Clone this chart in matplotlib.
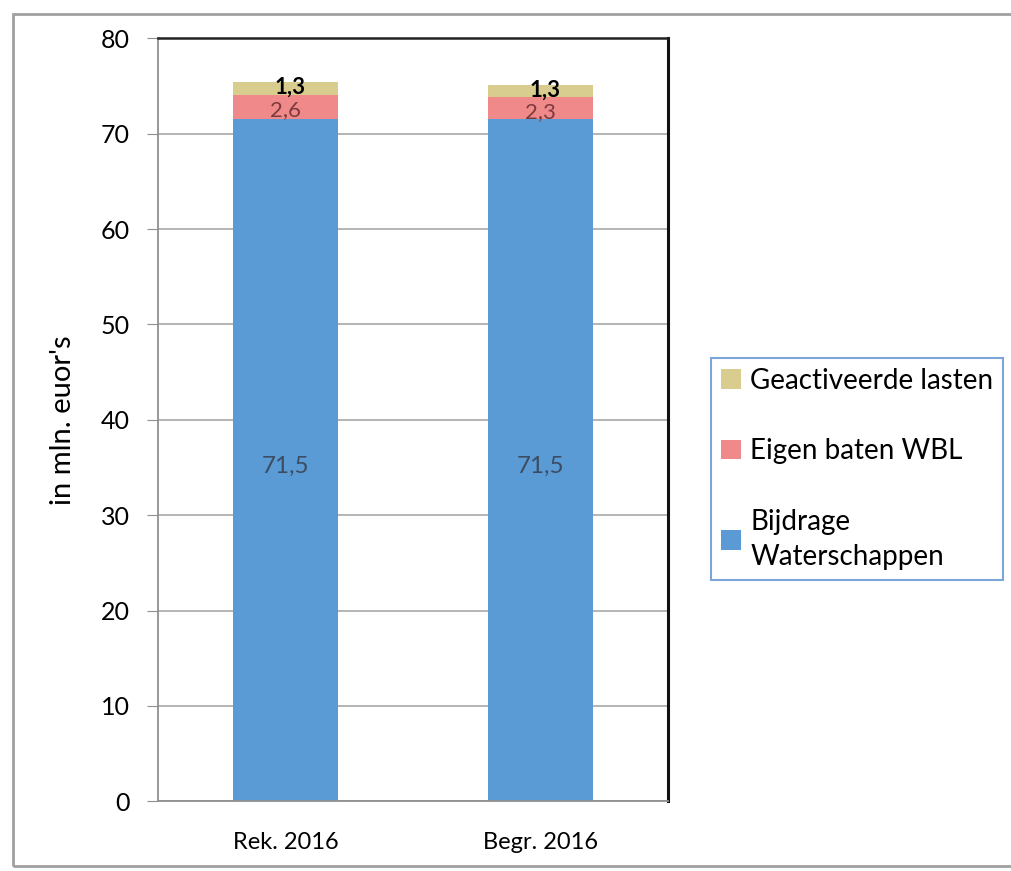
import matplotlib.pyplot as plt
from matplotlib.patches import Rectangle

plt.rcParams['font.family'] = ['Lato', 'DejaVu Sans']

categories = ['Rek. 2016', 'Begr. 2016']
bijdrage = [71.5, 71.5]
eigen_baten = [2.6, 2.3]
geactiveerd = [1.3, 1.3]
series_names = ['Bijdrage\nWaterschappen', 'Eigen baten WBL', 'Geactiveerde lasten']
yticks = [0, 10, 20, 30, 40, 50, 60, 70, 80]

col_blue = '#5b9bd5'
col_red = '#f08a8a'
col_tan = '#d9cc8f'

fig = plt.figure(figsize=(10.12, 8.71), dpi=100)
ax = fig.add_axes([0.156, 0.080, 0.504, 0.876])

x = range(len(categories))
w = 0.41
b1 = ax.bar(x, bijdrage, w, color=col_blue, label=series_names[0], zorder=2)
b2 = ax.bar(x, eigen_baten, w, bottom=bijdrage, color=col_red, label=series_names[1], zorder=2)
bottom3 = [a + b for a, b in zip(bijdrage, eigen_baten)]
b3 = ax.bar(x, geactiveerd, w, bottom=bottom3, color=col_tan, label=series_names[2], zorder=2)

def fmt(v):
    return ('%.1f' % v).replace('.', ',')

for i in x:
    ax.text(i, bijdrage[i] / 2 - 0.6, fmt(bijdrage[i]), ha='center', va='center',
            fontsize=17.5, color='#3c4d63', zorder=3)
    ax.text(i, bijdrage[i] + eigen_baten[i] / 2 - 0.35, fmt(eigen_baten[i]), ha='center',
            va='center', fontsize=16, color='#7d3b3d', zorder=3)
    ax.text(i + 0.02, bottom3[i] + geactiveerd[i] / 2 + 0.1, fmt(geactiveerd[i]), ha='center',
            va='center', fontsize=16, color='black', fontweight='bold', zorder=4)

ax.set_xlim(-0.5, 1.5)
ax.set_ylim(0, 80)
ax.set_yticks(yticks)
ax.set_yticklabels([str(t) for t in yticks], fontsize=18)
ax.set_xticks(list(x))
ax.set_xticklabels(categories, fontsize=17)
ax.tick_params(axis='x', length=0, pad=22)
ax.tick_params(axis='y', length=8, color='#909090', pad=12, direction='out')
ax.yaxis.grid(True, color='#a8a8a8', linewidth=1.2, zorder=0)
ax.set_axisbelow(True)
ax.set_ylabel("in mln. euor's", fontsize=21, labelpad=18)

ax.spines['left'].set_color('#909090')
ax.spines['bottom'].set_color('#909090')
ax.spines['top'].set_color('#222222')
ax.spines['right'].set_color('#111111')
ax.spines['left'].set_linewidth(1.3)
ax.spines['bottom'].set_linewidth(1.3)
ax.spines['top'].set_linewidth(1.8)
ax.spines['right'].set_linewidth(2.2)

leg = fig.legend([b3, b2, b1], [series_names[2], series_names[1], series_names[0]],
                 loc='upper left', bbox_to_anchor=(0.703, 0.589),
                 fontsize=20, frameon=True, fancybox=False,
                 handlelength=0.7, handleheight=0.7, handletextpad=0.35,
                 labelspacing=1.6, borderpad=0.35, borderaxespad=0)
leg.get_texts()[2].set_linespacing(1.45)
leg.get_frame().set_edgecolor('#5b8fd0')
leg.get_frame().set_linewidth(1.5)

fig.patches.append(Rectangle((13 / 1012, 1 - 866 / 871), 1.2, (866 - 14) / 871,
                             transform=fig.transFigure, fill=False,
                             edgecolor='#a0a0a0', linewidth=2))

fig.savefig('out.png', dpi=100)
